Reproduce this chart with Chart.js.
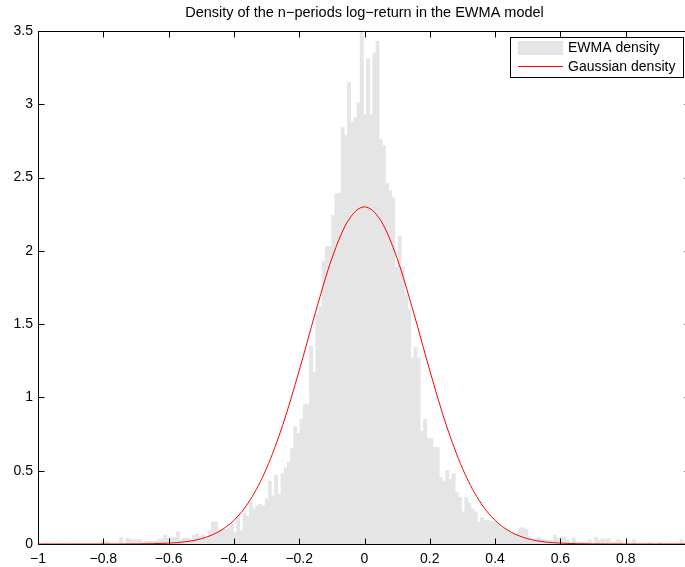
<!DOCTYPE html>
<html>
<head>
<meta charset="utf-8">
<script src="https://cdn.jsdelivr.net/npm/chart.js@4.4.0/dist/chart.umd.min.js"></script>
<style>
  html, body { margin: 0; padding: 0; background: #fff; overflow: hidden; }
  canvas { display: block; }
</style>
</head>
<body>
<canvas id="myChart" width="691" height="567"></canvas>
<script>
// Histogram of the simulated log-returns (bin left edge + width, one density per bin)
var binStart = -0.8185;
var binWidth = 0.0097;
var ewmaDensity = [
    0, 0.02, 0.02, 0.015, 0, 0, 0, 0.045, 0, 0.04,
    0.03, 0.03, 0.03, 0.03, 0.01, 0.018, 0.018, 0.018, 0.018, 0.03,
    0.037, 0.061, 0.037, 0.045, 0.045, 0.084, 0.03, 0.04, 0.04, 0.03,
    0.061, 0.068, 0.052, 0.061, 0.037, 0.09, 0.15, 0.15, 0.09, 0.10,
    0.10, 0.11, 0.14, 0.08, 0.20, 0.09, 0.21, 0.19, 0.28, 0.24,
    0.26, 0.27, 0.26, 0.31, 0.43, 0.33, 0.47, 0.34, 0.48, 0.52,
    0.56, 0.65, 0.80, 0.755, 0.85, 0.955, 0.955, 1.35, 1.17, 1.57,
    1.62, 1.93, 2.03, 2.03, 2.24, 2.39, 2.39, 2.84, 2.79, 3.15,
    2.88, 2.91, 3.01, 3.50, 2.93, 3.31, 2.93, 3.35, 3.43, 2.76,
    2.72, 2.46, 2.41, 2.36, 1.89, 2.10, 1.89, 1.70, 1.60, 1.27,
    1.34, 1.27, 0.77, 0.85, 0.72, 0.72, 0.66, 0.66, 0.455, 0.43,
    0.50, 0.44, 0.48, 0.35, 0.32, 0.22, 0.32, 0.28, 0.24, 0.22,
    0.15, 0.18, 0.16, 0.16, 0.15, 0.15, 0.14, 0.11, 0.11, 0.10,
    0.08, 0.07, 0.07, 0.11, 0.11, 0.10, 0.05, 0.035, 0.035, 0.045,
    0.03, 0.03, 0.025, 0.025, 0.06, 0.04, 0.045, 0.045, 0.03, 0,
    0.04, 0.01, 0.01, 0.01, 0.01, 0.03, 0, 0.045, 0.025, 0.035,
    0.03, 0.035, 0.012, 0.012, 0.03, 0.02, 0, 0, 0, 0.03,
    0, 0, 0, 0, 0.01, 0, 0, 0.01, 0, 0,
    0, 0, 0, 0, 0.03
];

// Gaussian density
var gaussX = [-1, -0.95, -0.9, -0.85, -0.8, -0.75, -0.7, -0.65, -0.6, -0.55,
    -0.5, -0.45, -0.4, -0.35, -0.3, -0.25, -0.2, -0.15, -0.1, -0.05,
    0, 0.05, 0.1, 0.15, 0.2, 0.25, 0.3, 0.35, 0.4, 0.45,
    0.5, 0.55, 0.6, 0.65, 0.7, 0.75, 0.8, 0.85, 0.9, 0.95, 1];
var gaussY = [0, 0, 0, 0, 0, 0, 0.0007, 0.002, 0.006, 0.015,
    0.036, 0.080, 0.161, 0.301, 0.516, 0.815, 1.183, 1.582, 1.948, 2.206,
    2.30, 2.206, 1.948, 1.582, 1.183, 0.815, 0.516, 0.301, 0.161, 0.080,
    0.036, 0.015, 0.006, 0.002, 0.0007, 0, 0, 0, 0, 0, 0];

// Axis ticks
var xTicks = [-1, -0.8, -0.6, -0.4, -0.2, 0, 0.2, 0.4, 0.6, 0.8];
var yTicks = [0, 0.5, 1, 1.5, 2, 2.5, 3, 3.5];

var titleText = 'Density of the n\u2212periods log\u2212return in the EWMA model';
var fontFamily = '"Liberation Sans", Arial, Helvetica, sans-serif';

//Build chart data
var histData = [];
ewmaDensity.forEach(function (d, i) {
    histData.push({ x: binStart + (i + 0.5) * binWidth, y: d });
});
var gaussData = [];
gaussX.forEach(function (x, i) {
    gaussData.push({ x: x, y: gaussY[i] });
});

function fmt(v) {
    return String(v).replace('-', '\u2212');
}

// MATLAB style box, inward ticks and legend
var matlabAxes = {
    id: 'matlabAxes',
    afterDatasetsDraw: function (chart) {
        var ctx = chart.ctx;
        var a = chart.chartArea;
        var xs = chart.scales.x, ys = chart.scales.y;
        var L = Math.round(a.left) + 0.5, R = Math.round(a.right) - 0.5;
        var T = Math.round(a.top) + 0.5, B = Math.round(a.bottom) + 0.5;
        var tl = 6;
        ctx.save();
        ctx.strokeStyle = '#000';
        ctx.lineWidth = 1;
        ctx.beginPath();
        ctx.rect(L, T, R - L, B - T);
        xTicks.forEach(function (v) {
            var px = Math.round(xs.getPixelForValue(v)) + 0.5;
            ctx.moveTo(px, B); ctx.lineTo(px, B - tl);
            ctx.moveTo(px, T); ctx.lineTo(px, T + tl);
        });
        yTicks.forEach(function (v) {
            var py = Math.round(ys.getPixelForValue(v)) + 0.5;
            ctx.moveTo(L, py); ctx.lineTo(L + tl, py);
            ctx.moveTo(R, py); ctx.lineTo(R - tl, py);
        });
        ctx.stroke();
        ctx.restore();
    },
    afterDraw: function (chart) {
        var ctx = chart.ctx;
        var ds = chart.data.datasets;
        var bx = 510.5, by = 37.5, bw = 173, bh = 40;
        ctx.save();
        ctx.fillStyle = '#fff';
        ctx.fillRect(bx, by, bw, bh);
        ctx.strokeStyle = '#000';
        ctx.lineWidth = 1;
        ctx.strokeRect(bx, by, bw, bh);
        ctx.font = '14px ' + fontFamily;
        ctx.textBaseline = 'middle';
        ctx.textAlign = 'left';
        // histogram entry
        ctx.fillStyle = ds[0].backgroundColor;
        ctx.fillRect(518, 41, 45, 14);
        ctx.fillStyle = '#000';
        ctx.fillText(ds[0].label, 568, 48);
        // gaussian entry
        ctx.strokeStyle = ds[1].borderColor;
        ctx.beginPath();
        ctx.moveTo(518, 66.5); ctx.lineTo(563, 66.5);
        ctx.stroke();
        ctx.fillStyle = '#000';
        ctx.fillText(ds[1].label, 568, 67);
        ctx.restore();
    }
};

const ctx = document.getElementById('myChart');
const myChart = new Chart(ctx, {
    type: 'bar',
    data: {
        datasets: [{
            type: 'bar',
            label: 'EWMA density',
            backgroundColor: 'rgb(229, 229, 229)',
            borderWidth: 0,
            barPercentage: 1.0,
            categoryPercentage: 1.0,
            order: 1,
            data: histData
        }, {
            type: 'line',
            label: 'Gaussian density',
            borderColor: 'rgb(255, 0, 0)',
            borderWidth: 1,
            pointRadius: 0,
            cubicInterpolationMode: 'monotone',
            order: 0,
            data: gaussData
        }]
    },
    options: {
        responsive: false,
        animation: false,
        devicePixelRatio: 1,
        layout: { padding: 0 },
        plugins: {
            legend: { display: false },
            tooltip: { enabled: false },
            title: {
                display: true,
                fullSize: false,
                text: titleText,
                color: '#000',
                font: { family: fontFamily, size: 14.5, weight: 'normal', lineHeight: 1 },
                padding: { top: 6, bottom: 10.5 }
            }
        },
        scales: {
            x: {
                type: 'linear',
                min: -1,
                max: 1,
                offset: false,
                grid: { display: false, drawTicks: false },
                border: { display: false },
                afterBuildTicks: function (scale) {
                    scale.ticks = xTicks.map(function (v) { return { value: v }; });
                },
                afterFit: function (scale) { scale.height = 23; },
                ticks: {
                    color: '#000',
                    padding: 7,
                    maxRotation: 0,
                    autoSkip: false,
                    font: { family: fontFamily, size: 14 },
                    callback: function (v) { return fmt(v); }
                }
            },
            y: {
                min: 0,
                max: 3.5,
                grid: { display: false, drawTicks: false },
                border: { display: false },
                afterBuildTicks: function (scale) {
                    scale.ticks = yTicks.map(function (v) { return { value: v }; });
                },
                afterFit: function (scale) { scale.width = 38; },
                ticks: {
                    color: '#000',
                    padding: 5,
                    autoSkip: false,
                    font: { family: fontFamily, size: 14 },
                    callback: function (v) { return fmt(v); }
                }
            }
        }
    },
    plugins: [matlabAxes]
});
</script>
</body>
</html>
